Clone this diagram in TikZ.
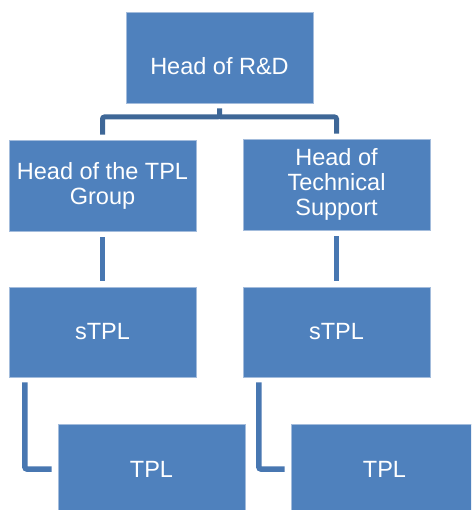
\documentclass[tikz,border=0pt]{standalone}
\usepackage{fontspec}
\setmainfont{Liberation Sans}
\usetikzlibrary{calc}
\definecolor{boxblue}{HTML}{4F81BD}
\definecolor{boxedge}{HTML}{A3BCDC}
\definecolor{topconn}{HTML}{3E6797}
\definecolor{lowconn}{HTML}{4877B1}
\tikzset{
  orgbox/.style={rectangle, fill=boxblue, draw=boxedge, line width=0.8pt,
    minimum width=187pt, minimum height=91pt, inner sep=0pt, text=white,
    align=center, font=\fontsize{23.5}{25}\selectfont},
  topline/.style={draw=topconn, line width=5pt, rounded corners=2pt},
  lowline/.style={draw=lowconn, line width=5.5pt, rounded corners=2pt}
}
\begin{document}
\begin{tikzpicture}[x=1pt,y=-1pt]
\useasboundingbox (0,0) rectangle (471,510);
\clip (0,0) rectangle (471,510);
\node[orgbox] (head) at (219.5,57.5) {\raisebox{-9pt}[\height][\depth]{Head of R\&D}};
\node[orgbox] (tplg) at (102.5,185.5) {Head of the TPL\\Group};
\node[orgbox] (tech) at (336.5,184.5) {Head of\\Technical\\Support};
\node[orgbox, minimum height=90pt] (stplL) at (102.5,332) {sTPL};
\node[orgbox, minimum height=90pt] (stplR) at (336.5,332) {sTPL};
\node[orgbox, minimum height=90pt] (tplL) at (151.5,469) {TPL};
\node[orgbox, minimum height=90pt] (tplR) at (384.5,469) {TPL};
\coordinate (bus) at (219.5,117);
\draw[topline] ([yshift=-5pt]head.south) -- (bus) -| ([yshift=5pt]tplg.north);
\draw[topline] (bus) -| ([yshift=5pt]tech.north);
\draw[lowline] ([yshift=-6pt]tplg.south) -- ([yshift=6pt]stplL.north);
\draw[lowline] ([yshift=-6pt]tech.south) -- ([yshift=6pt]stplR.north);
\draw[lowline] ($(stplL.south west)+(16.3,5)$) |- ([xshift=-6pt]tplL.west);
\draw[lowline] ($(stplR.south west)+(16.3,5)$) |- ([xshift=-6pt]tplR.west);
\end{tikzpicture}
\end{document}
